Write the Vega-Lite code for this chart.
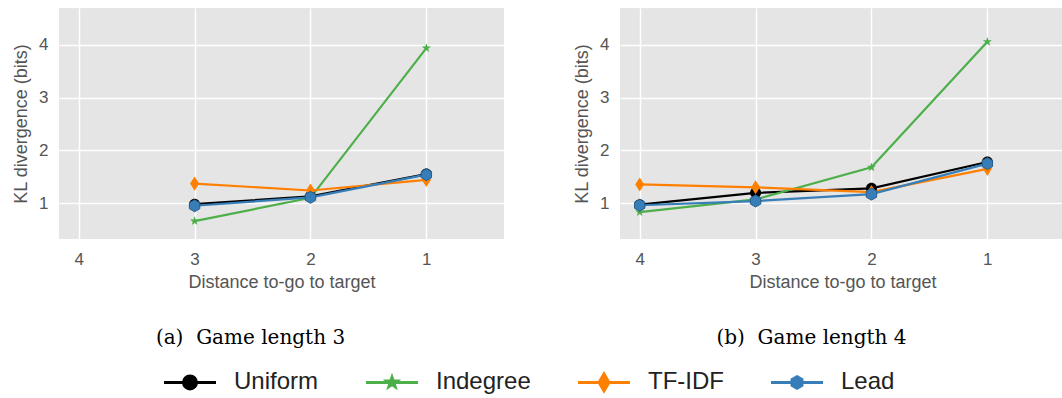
{
  "$schema": "https://vega.github.io/schema/vega-lite/v6.json",
  "background": "white",
  "padding": {"left": 12, "top": 8, "right": 0, "bottom": 0},
  "datasets": {
    "kl": [
      {"game": "a", "d": 3, "kl": 0.98, "s": "Uniform"},
      {"game": "a", "d": 2, "kl": 1.13, "s": "Uniform"},
      {"game": "a", "d": 1, "kl": 1.55, "s": "Uniform"},
      {"game": "a", "d": 3, "kl": 0.66, "s": "Indegree"},
      {"game": "a", "d": 2, "kl": 1.10, "s": "Indegree"},
      {"game": "a", "d": 1, "kl": 3.94, "s": "Indegree"},
      {"game": "a", "d": 3, "kl": 1.37, "s": "TF-IDF"},
      {"game": "a", "d": 2, "kl": 1.24, "s": "TF-IDF"},
      {"game": "a", "d": 1, "kl": 1.44, "s": "TF-IDF"},
      {"game": "a", "d": 3, "kl": 0.95, "s": "Lead"},
      {"game": "a", "d": 2, "kl": 1.11, "s": "Lead"},
      {"game": "a", "d": 1, "kl": 1.54, "s": "Lead"},
      {"game": "b", "d": 4, "kl": 0.97, "s": "Uniform"},
      {"game": "b", "d": 3, "kl": 1.195, "s": "Uniform"},
      {"game": "b", "d": 2, "kl": 1.28, "s": "Uniform"},
      {"game": "b", "d": 1, "kl": 1.78, "s": "Uniform"},
      {"game": "b", "d": 4, "kl": 0.83, "s": "Indegree"},
      {"game": "b", "d": 3, "kl": 1.07, "s": "Indegree"},
      {"game": "b", "d": 2, "kl": 1.68, "s": "Indegree"},
      {"game": "b", "d": 1, "kl": 4.06, "s": "Indegree"},
      {"game": "b", "d": 4, "kl": 1.355, "s": "TF-IDF"},
      {"game": "b", "d": 3, "kl": 1.30, "s": "TF-IDF"},
      {"game": "b", "d": 2, "kl": 1.21, "s": "TF-IDF"},
      {"game": "b", "d": 1, "kl": 1.65, "s": "TF-IDF"},
      {"game": "b", "d": 4, "kl": 0.96, "s": "Lead"},
      {"game": "b", "d": 3, "kl": 1.04, "s": "Lead"},
      {"game": "b", "d": 2, "kl": 1.17, "s": "Lead"},
      {"game": "b", "d": 1, "kl": 1.75, "s": "Lead"}
    ]
  },
  "data": {"name": "kl"},
  "spacing": 116,
  "bounds": "flush",
  "hconcat": [
    {
      "width": 445,
      "height": 231,
      "title": {"text": "(a)\u00a0 Game length 3", "orient": "bottom", "anchor": "middle", "frame": "group", "dx": -31, "offset": 37},
      "transform": [{"filter": "datum.game === 'a'"}],
      "encoding": {
        "x": {"field": "d", "type": "quantitative", "title": "Distance to-go to target",
              "axis": {"values": [1, 2, 3, 4], "format": "d"},
              "scale": {"domain": [0.33, 4.17], "reverse": true, "nice": false, "zero": false}},
        "y": {"field": "kl", "type": "quantitative", "title": "KL divergence (bits)",
              "axis": {"values": [1, 2, 3, 4], "format": "d"},
              "scale": {"domain": [0.32, 4.70], "nice": false, "zero": false}}
      },
      "layer": [
        {"mark": {"type": "line", "strokeWidth": 2.2},
         "encoding": {"stroke": {"field": "s", "type": "nominal", "title": null,
            "scale": {"domain": ["Uniform", "Indegree", "TF-IDF", "Lead"], "range": ["#000000", "#4daf4a", "#ff7f00", "#377eb8"]}}}},
        {"transform": [{"filter": "datum.s === 'Uniform'"}],
         "mark": {"type": "point", "filled": true, "opacity": 1, "size": 144, "color": "#000000",
                  "shape": "M-0.92,0A0.92,0.92 0 1,0 0.92,0A0.92,0.92 0 1,0 -0.92,0Z"}},
        {"transform": [{"filter": "datum.s === 'Indegree'"}],
         "mark": {"type": "point", "filled": true, "opacity": 1, "size": 144, "color": "#4daf4a",
                  "shape": "M0,-0.8L0.188,-0.259L0.761,-0.247L0.304,0.099L0.47,0.647L0,0.32L-0.47,0.647L-0.304,0.099L-0.761,-0.247L-0.188,-0.259Z"}},
        {"transform": [{"filter": "datum.s === 'TF-IDF'"}],
         "mark": {"type": "point", "filled": true, "opacity": 1, "size": 144, "color": "#ff7f00",
                  "shape": "M0,-1.17L0.75,0L0,1.17L-0.75,0Z"}},
        {"transform": [{"filter": "datum.s === 'Lead'"}],
         "mark": {"type": "point", "filled": true, "opacity": 1, "size": 144, "fill": "#377eb8", "stroke": "#2a5f8c", "strokeWidth": 1,
                  "shape": "M0,-1L0.866,-0.5L0.866,0.5L0,1L-0.866,0.5L-0.866,-0.5Z"}},
        {"transform": [{"filter": "datum.kl < -100"}],
         "mark": {"type": "point", "filled": true, "opacity": 1},
         "encoding": {
           "fill": {"field": "s", "type": "nominal", "title": null,
              "scale": {"domain": ["Uniform", "Indegree", "TF-IDF", "Lead"], "range": ["#000000", "#4daf4a", "#ff7f00", "#377eb8"]}},
           "stroke": {"field": "s", "type": "nominal", "title": null,
              "scale": {"domain": ["Uniform", "Indegree", "TF-IDF", "Lead"], "range": ["#000000", "#4daf4a", "#ff7f00", "#377eb8"]}},
           "shape": {"field": "s", "type": "nominal", "title": null,
              "scale": {"domain": ["Uniform", "Indegree", "TF-IDF", "Lead"],
                        "range": ["M0,-1.15M0,1.15M-3.25,0L3.25,0M-0.81,0A0.81,0.81 0 1,0 0.81,0A0.81,0.81 0 1,0 -0.81,0Z",
                                  "M0,-1.15M0,1.15M-3.25,0L3.25,0M0,-0.65L0.153,-0.211L0.618,-0.201L0.247,0.081L0.382,0.526L0,0.26L-0.382,0.526L-0.247,0.081L-0.618,-0.201L-0.153,-0.211Z",
                                  "M0,-1.15M0,1.15M-3.25,0L3.25,0M0,-1.06L0.62,0L0,1.06L-0.62,0Z",
                                  "M0,-1.15M0,1.15M-3.25,0L3.25,0M0,-0.72L0.624,-0.36L0.624,0.36L0,0.72L-0.624,0.36L-0.624,-0.36Z"]}}
         }}
      ]
    },
    {
      "width": 445,
      "height": 231,
      "title": {"text": "(b)\u00a0 Game length 4", "orient": "bottom", "anchor": "middle", "frame": "group", "dx": -31, "offset": 37},
      "transform": [{"filter": "datum.game === 'b'"}],
      "encoding": {
        "x": {"field": "d", "type": "quantitative", "title": "Distance to-go to target",
              "axis": {"values": [1, 2, 3, 4], "format": "d"},
              "scale": {"domain": [0.33, 4.17], "reverse": true, "nice": false, "zero": false}},
        "y": {"field": "kl", "type": "quantitative", "title": "KL divergence (bits)",
              "axis": {"values": [1, 2, 3, 4], "format": "d"},
              "scale": {"domain": [0.32, 4.70], "nice": false, "zero": false}}
      },
      "layer": [
        {"mark": {"type": "line", "strokeWidth": 2.2},
         "encoding": {"stroke": {"field": "s", "type": "nominal", "title": null,
            "scale": {"domain": ["Uniform", "Indegree", "TF-IDF", "Lead"], "range": ["#000000", "#4daf4a", "#ff7f00", "#377eb8"]}}}},
        {"transform": [{"filter": "datum.s === 'Uniform'"}],
         "mark": {"type": "point", "filled": true, "opacity": 1, "size": 144, "color": "#000000",
                  "shape": "M-0.92,0A0.92,0.92 0 1,0 0.92,0A0.92,0.92 0 1,0 -0.92,0Z"}},
        {"transform": [{"filter": "datum.s === 'Indegree'"}],
         "mark": {"type": "point", "filled": true, "opacity": 1, "size": 144, "color": "#4daf4a",
                  "shape": "M0,-0.8L0.188,-0.259L0.761,-0.247L0.304,0.099L0.47,0.647L0,0.32L-0.47,0.647L-0.304,0.099L-0.761,-0.247L-0.188,-0.259Z"}},
        {"transform": [{"filter": "datum.s === 'TF-IDF'"}],
         "mark": {"type": "point", "filled": true, "opacity": 1, "size": 144, "color": "#ff7f00",
                  "shape": "M0,-1.17L0.75,0L0,1.17L-0.75,0Z"}},
        {"transform": [{"filter": "datum.s === 'Lead'"}],
         "mark": {"type": "point", "filled": true, "opacity": 1, "size": 144, "fill": "#377eb8", "stroke": "#2a5f8c", "strokeWidth": 1,
                  "shape": "M0,-1L0.866,-0.5L0.866,0.5L0,1L-0.866,0.5L-0.866,-0.5Z"}}
      ]
    }
  ],
  "config": {
    "view": {"stroke": null, "fill": "#e5e5e5"},
    "font": "Liberation Sans",
    "axis": {
      "grid": true, "gridColor": "#ffffff", "gridWidth": 1.5, "gridOpacity": 1,
      "domain": false, "ticks": false,
      "labelFont": "Liberation Sans", "labelFontSize": 17, "labelColor": "#555555", "labelPadding": 11,
      "titleFont": "Liberation Sans", "titleFontSize": 18, "titleColor": "#555555", "titleFontWeight": "normal", "titlePadding": 8
    },
    "axisX": {"labelPadding": 12, "titlePadding": 6},
    "title": {"font": "DejaVu Serif", "fontSize": 20, "fontWeight": "normal", "color": "#000000"},
    "legend": {
      "orient": "none", "direction": "horizontal", "legendX": 101, "legendY": 362,
      "labelFont": "Liberation Sans", "labelFontSize": 24, "labelColor": "#222222",
      "symbolSize": 256, "symbolStrokeWidth": 3, "symbolOffset": 18, "labelOffset": 32,
      "columnPadding": 41, "symbolOpacity": 1
    }
  }
}
